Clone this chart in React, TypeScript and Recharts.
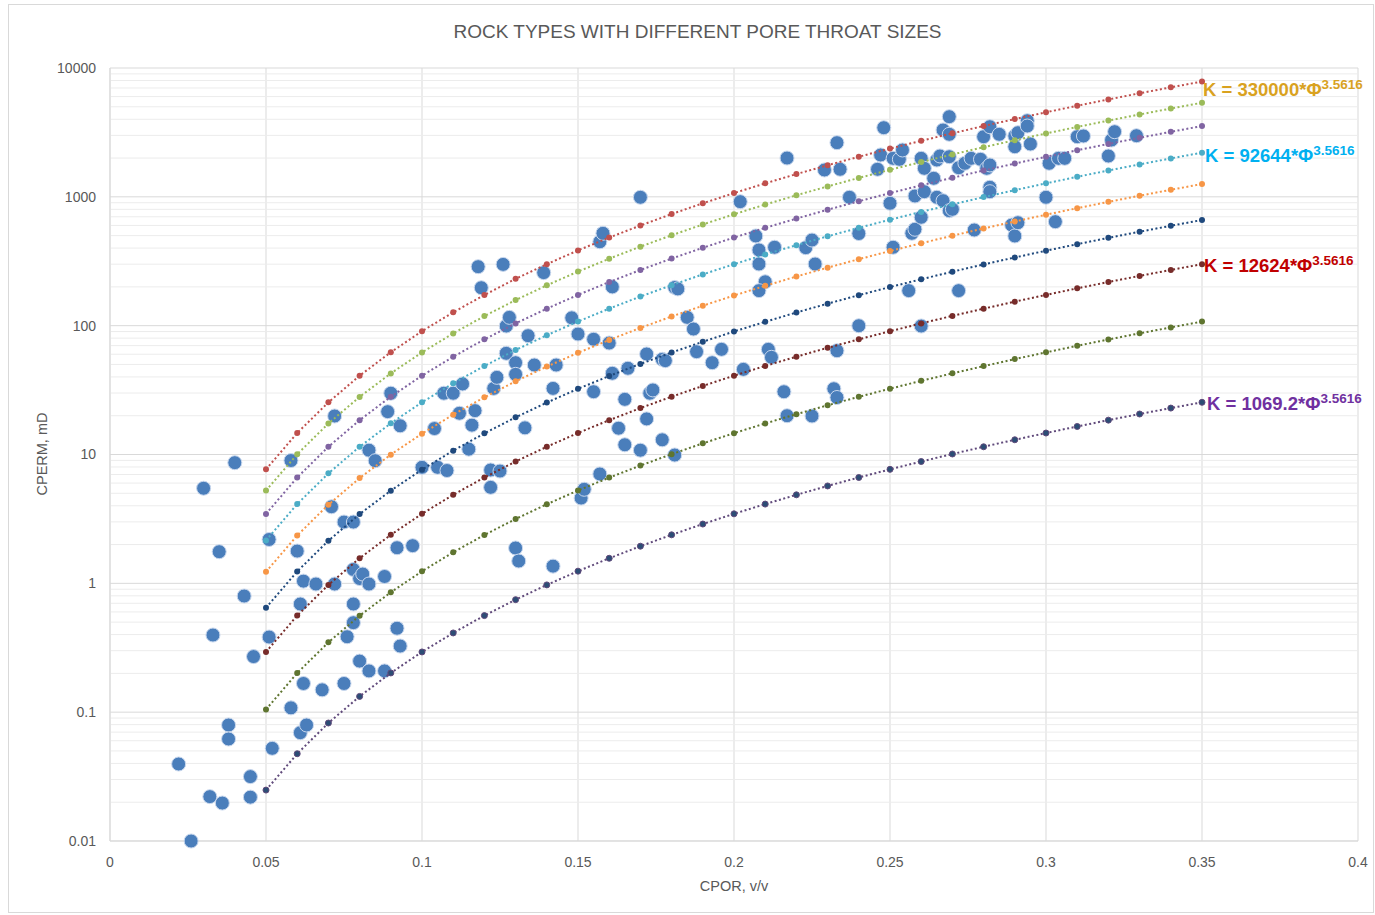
import React from 'react';
import { ComposedChart, Scatter, XAxis, YAxis, CartesianGrid, ReferenceLine } from 'recharts';

const PHI = [0.05, 0.06, 0.07, 0.08, 0.09, 0.1, 0.11, 0.12, 0.13, 0.14, 0.15, 0.16, 0.17, 0.18, 0.19, 0.2, 0.21, 0.22, 0.23, 0.24, 0.25, 0.26, 0.27, 0.28, 0.29, 0.3, 0.31, 0.32, 0.33, 0.34, 0.35];

const K330000 = [7.67, 14.68, 25.4, 40.9, 62.2, 90.6, 127, 173, 231, 300, 384, 483, 599, 735, 891, 1069, 1272, 1502, 1759, 2047, 2367, 2722, 3114, 3544, 4016, 4531, 5093, 5703, 6363, 7077, 7847];
const K226000 = [5.25, 10.05, 17.4, 28.0, 42.6, 62.0, 87.1, 118.7, 157.9, 205.6, 262.8, 330.8, 410.5, 503.1, 610.0, 732.2, 871.2, 1028, 1205, 1402, 1621, 1864, 2132, 2427, 2750, 3103, 3488, 3905, 4358, 4846, 5374];
const K149000 = [3.46, 6.63, 11.48, 18.47, 28.1, 40.9, 57.4, 78.3, 104.1, 135.5, 173.3, 218.1, 270.6, 331.7, 402.2, 482.8, 574.4, 678.0, 794.2, 924.1, 1069, 1229, 1406, 1600, 1813, 2046, 2300, 2575, 2873, 3195, 3543];
const K92644 = [2.153, 4.122, 7.138, 11.48, 17.47, 25.42, 35.7, 48.67, 64.72, 84.27, 107.7, 135.6, 168.3, 206.2, 250.1, 300.2, 357.1, 421.5, 493.8, 574.6, 664.5, 764.2, 874.1, 995.0, 1127, 1272, 1430, 1601, 1786, 1987, 2203];
const K52900 = [1.229, 2.354, 4.076, 6.557, 9.975, 14.52, 20.38, 27.79, 36.96, 48.12, 61.52, 77.42, 96.08, 117.8, 142.8, 171.4, 203.9, 240.7, 282.0, 328.1, 379.5, 436.4, 499.1, 568.1, 643.7, 726.4, 816.4, 914.2, 1020, 1134, 1258];
const K27800 = [0.646, 1.237, 2.142, 3.446, 5.242, 7.628, 10.71, 14.6, 19.42, 25.29, 32.33, 40.69, 50.49, 61.89, 75.03, 90.07, 107.2, 126.5, 148.2, 172.4, 199.4, 229.3, 262.3, 298.6, 338.3, 381.7, 429.0, 480.4, 536.0, 596.1, 661.0];
const K12624 = [0.2934, 0.5616, 0.9727, 1.565, 2.38, 3.464, 4.864, 6.631, 8.819, 11.48, 14.68, 18.47, 22.93, 28.1, 34.07, 40.9, 48.67, 57.44, 67.29, 78.29, 90.55, 104.1, 119.1, 135.6, 153.6, 173.3, 194.8, 218.2, 243.4, 270.7, 300.2];
const K4520 = [0.105, 0.2011, 0.3483, 0.5603, 0.8523, 1.24, 1.742, 2.374, 3.158, 4.111, 5.257, 6.615, 8.209, 10.06, 12.2, 14.64, 17.42, 20.57, 24.09, 28.03, 32.42, 37.29, 42.65, 48.54, 55.0, 62.06, 69.76, 78.11, 87.15, 96.93, 107.5];
const K1069 = [0.02485, 0.04757, 0.08238, 0.1325, 0.2016, 0.2934, 0.412, 0.5617, 0.7469, 0.9725, 1.243, 1.565, 1.942, 2.38, 2.886, 3.464, 4.122, 4.865, 5.699, 6.631, 7.669, 8.82, 10.09, 11.48, 13.01, 14.68, 16.5, 18.48, 20.62, 22.93, 25.42];

const SAMPLE_CPOR = [
  0.022, 0.026, 0.030, 0.032, 0.033, 0.035, 0.036, 0.038, 0.038, 0.040, 0.043, 0.045, 0.045, 0.046, 0.051, 0.051, 0.052, 0.058, 0.058, 0.060,
  0.061, 0.061, 0.062, 0.062, 0.063, 0.066, 0.068, 0.071, 0.072, 0.072, 0.075, 0.075, 0.076, 0.078, 0.078, 0.078, 0.078, 0.080, 0.080, 0.081,
  0.083, 0.083, 0.083, 0.085, 0.088, 0.088, 0.089, 0.090, 0.092, 0.092, 0.093, 0.093, 0.097, 0.100, 0.104, 0.105, 0.107, 0.110, 0.108, 0.112,
  0.113, 0.115, 0.117, 0.116, 0.118, 0.119, 0.122, 0.125, 0.122, 0.123, 0.124, 0.126, 0.127, 0.128, 0.127, 0.130, 0.130, 0.130, 0.131, 0.133,
  0.134, 0.136, 0.139, 0.142, 0.143, 0.142, 0.148, 0.150, 0.151, 0.152, 0.155, 0.155, 0.157, 0.158, 0.157, 0.160, 0.161, 0.161, 0.163, 0.165,
  0.165, 0.166, 0.170, 0.170, 0.172, 0.172, 0.173, 0.174, 0.177, 0.178, 0.177, 0.181, 0.181, 0.182, 0.185, 0.187, 0.188, 0.193, 0.196, 0.202,
  0.203, 0.207, 0.208, 0.208, 0.210, 0.208, 0.211, 0.212, 0.213, 0.216, 0.217, 0.217, 0.223, 0.225, 0.225, 0.226, 0.229, 0.232, 0.233, 0.233,
  0.233, 0.234, 0.237, 0.240, 0.240, 0.246, 0.247, 0.248, 0.250, 0.251, 0.251, 0.253, 0.254, 0.256, 0.257, 0.258, 0.258, 0.260, 0.260, 0.260,
  0.261, 0.261, 0.264, 0.265, 0.265, 0.266, 0.267, 0.267, 0.269, 0.269, 0.269, 0.269, 0.270, 0.272, 0.272, 0.274, 0.276, 0.277, 0.279, 0.280,
  0.282, 0.281, 0.282, 0.282, 0.282, 0.285, 0.289, 0.290, 0.290, 0.290, 0.291, 0.291, 0.294, 0.294, 0.295, 0.300, 0.301, 0.303, 0.304, 0.306,
  0.310, 0.312, 0.320, 0.321, 0.322, 0.329,
];
const SAMPLE_CPERM = [
  0.0396, 0.01, 5.47, 0.0221, 0.397, 1.76, 0.0197, 0.0795, 0.0619, 8.64, 0.797, 0.0316, 0.0219, 0.27, 0.383, 2.19, 0.0524, 8.98, 0.108, 1.78,
  0.691, 0.0693, 1.04, 0.167, 0.0795, 0.988, 0.149, 3.93, 0.988, 19.9, 2.99, 0.167, 0.385, 2.99, 0.495, 1.28, 0.691, 1.09, 0.249, 1.18,
  10.8, 0.988, 0.209, 8.95, 1.13, 0.209, 21.5, 29.9, 1.89, 0.448, 0.326, 16.7, 1.96, 7.95, 15.9, 7.95, 29.9, 29.9, 7.51, 20.9,
  35.3, 11.0, 21.9, 16.9, 287, 197, 7.58, 7.44, 5.56, 32.6, 39.7, 299, 99.4, 116, 61.0, 51.6, 41.9, 1.88, 1.49, 16.1,
  83.6, 49.5, 258, 32.6, 49.5, 1.36, 115, 86.1, 4.59, 5.37, 78.4, 30.7, 448, 521, 7.06, 73.3, 200, 42.7, 16.0, 26.8,
  11.9, 46.7, 992, 10.8, 60.3, 18.9, 29.9, 31.7, 54.8, 53.5, 13.0, 9.91, 198, 193, 116, 94.2, 62.8, 51.6, 65.5, 917,
  45.8, 497, 387, 301, 219, 187, 65.5, 56.8, 406, 30.7, 20.0, 2001, 403, 462, 19.9, 301, 1616, 32.4, 27.7, 63.9,
  2632, 1636, 992, 519, 99.9, 1636, 2113, 3440, 891, 1990, 406, 1956, 2309, 187, 521, 560, 1015, 694, 99.4, 1990,
  1665, 1096, 1393, 1931, 992, 2075, 933, 3303, 4188, 3057, 2049, 780, 800, 1683, 187, 1821, 1990, 553, 1956, 2929,
  3502, 1665, 1767, 1186, 1096, 3057, 604, 2967, 2449, 497, 3147, 630, 3899, 3546, 2571, 992, 1821, 641, 1990, 1990,
  2929, 2967, 2075, 2761, 3203, 2982,
];

const X_TICKS = [0, 0.05, 0.1, 0.15, 0.2, 0.25, 0.3, 0.35, 0.4];
const Y_TICKS = [0.01, 0.1, 1, 10, 100, 1000, 10000];
const MINOR_Y: number[] = [];
for (let d = 0; d < Y_TICKS.length - 1; d++) {
  for (let m = 2; m <= 9; m++) MINOR_Y.push(Number((Y_TICKS[d] * m).toPrecision(3)));
}

const FONT = "'Liberation Sans', Arial, sans-serif";

type Curve = { values: number[]; color: string; stroke?: string; label?: string; labelColor?: string; ldx?: number; ldy?: number };
const CURVES: Curve[] = [
  { values: K330000, color: '#c0504d', label: 'K = 330000*Φ', labelColor: '#d9a21f', ldx: 1, ldy: 14 },
  { values: K226000, color: '#9bbb59' },
  { values: K149000, color: '#8064a2' },
  { values: K92644, color: '#4bacc6', label: 'K = 92644*Φ', labelColor: '#00b0f0', ldx: 3, ldy: 9 },
  { values: K52900, color: '#f79646' },
  { values: K27800, color: '#1f497d' },
  { values: K12624, color: '#772c2a', label: 'K = 12624*Φ', labelColor: '#c00000', ldx: 2, ldy: 8 },
  { values: K4520, color: '#5f7530' },
  { values: K1069, color: '#2c4d75', stroke: '#604a7b', label: 'K = 1069.2*Φ', labelColor: '#7030a0', ldx: 5, ldy: 8 },
];

const samples = SAMPLE_CPOR.map((x, i) => ({ x, y: SAMPLE_CPERM[i] }));

const sampleShape = (p: any) => (
  <circle cx={p.cx} cy={p.cy} r={7} fill="#4a7ebb" stroke="#c9d8ee" strokeWidth={1} />
);

const curveShape = (c: Curve) => (p: any) => {
  const last = p.payload && p.payload.x === PHI[PHI.length - 1];
  return (
    <g>
      <circle cx={p.cx} cy={p.cy} r={3} fill={c.color} stroke={c.stroke || c.color} strokeWidth={c.stroke ? 1 : 0} />
      {last && c.label ? (
        <text x={p.cx + (c.ldx || 0)} y={p.cy + (c.ldy || 0)} fill={c.labelColor} fontSize={18.5} fontWeight="bold" fontFamily={FONT}>
          {c.label}
          <tspan fontSize={13.5} dy={-7}>3.5616</tspan>
        </text>
      ) : null}
    </g>
  );
};

export default function App() {
  return (
    <div style={{ position: 'absolute', left: 0, top: 0, width: 1375, height: 915, background: '#fff', fontFamily: FONT }}>
      <div style={{ position: 'absolute', left: 8, top: 4, width: 1366, height: 909, border: '1px solid #d9d9d9', boxSizing: 'border-box' }} />
      <div style={{ position: 'absolute', left: 0, top: 21, width: 1395, textAlign: 'center', fontSize: 19, color: '#595959' }}>
        ROCK TYPES WITH DIFFERENT PORE THROAT SIZES
      </div>
      <div style={{ position: 'absolute', left: 634, top: 878, width: 200, textAlign: 'center', fontSize: 14.5, color: '#595959' }}>
        CPOR, v/v
      </div>
      <div style={{ position: 'absolute', left: -58, top: 446, width: 200, textAlign: 'center', fontSize: 14.5, color: '#595959', transform: 'rotate(-90deg)' }}>
        CPERM, mD
      </div>
      <div style={{ position: 'absolute', left: 0, top: 0 }}>
        <ComposedChart width={1375} height={915} margin={{ top: 68, right: 17, bottom: 44, left: 10 }}>
          <CartesianGrid stroke="#d9d9d9" strokeWidth={1} />
          {MINOR_Y.map((v) => (
            <ReferenceLine key={v} y={v} stroke="#ececec" strokeWidth={1} />
          ))}
          <XAxis
            type="number"
            dataKey="x"
            domain={[0, 0.4]}
            ticks={X_TICKS}
            height={30}
            axisLine={{ stroke: '#d9d9d9' }}
            tickLine={false}
            tickMargin={10}
            tick={{ fill: '#595959', fontSize: 14, fontFamily: FONT }}
          />
          <YAxis
            type="number"
            dataKey="y"
            scale="log"
            domain={[0.01, 10000]}
            ticks={Y_TICKS}
            width={100}
            axisLine={{ stroke: '#d9d9d9' }}
            tickLine={false}
            tickMargin={8}
            tick={{ fill: '#595959', fontSize: 14, fontFamily: FONT }}
          />
          <Scatter data={samples} shape={sampleShape} isAnimationActive={false} />
          {CURVES.map((c, i) => (
            <Scatter
              key={i}
              data={PHI.map((x, j) => ({ x, y: c.values[j] }))}
              line={{ stroke: c.stroke || c.color, strokeWidth: 2, strokeDasharray: '2 2.5' }}
              lineType="joint"
              shape={curveShape(c)}
              isAnimationActive={false}
            />
          ))}
        </ComposedChart>
      </div>
    </div>
  );
}
